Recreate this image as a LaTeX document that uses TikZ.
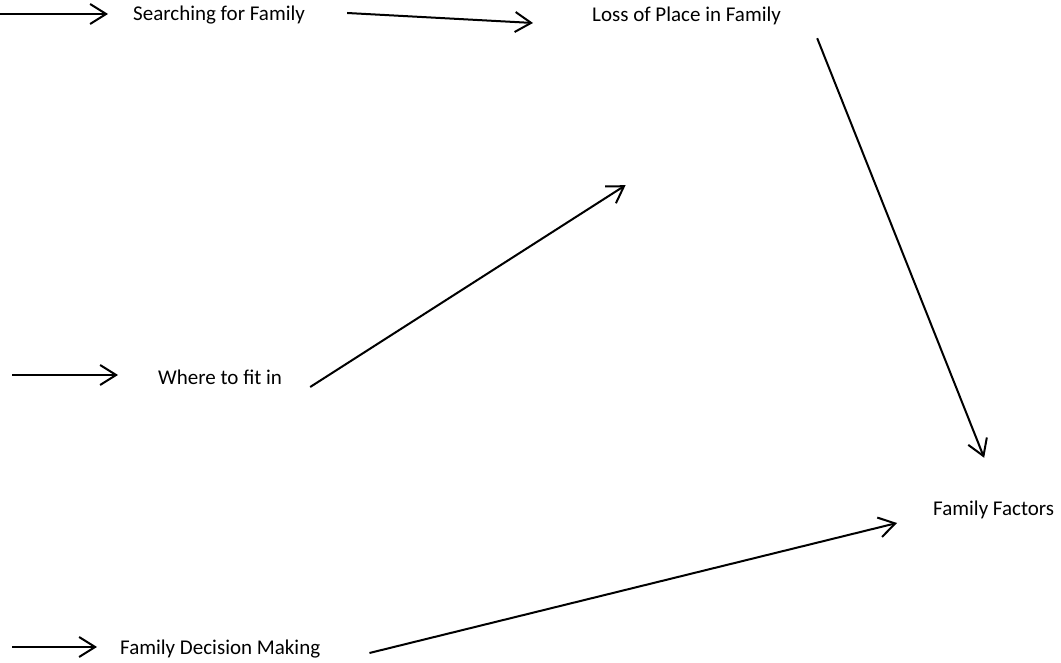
\documentclass[tikz,border=0pt]{standalone}
\usepackage{fontspec}
\setmainfont{Carlito}
\usepackage{tikz}
\usetikzlibrary{positioning,arrows.meta}

\begin{document}
\begin{tikzpicture}[x=1pt,y=1pt,
    lbl/.style={inner sep=0pt,anchor=base west,text height=14pt,text depth=5pt,
      font=\fontsize{21}{25}\selectfont},
    flow/.style={line width=2pt,-{Straight Barb[length=16pt,width=20pt,line width=2pt]}}]
      \useasboundingbox (0,0) rectangle (1061,663);
      % labels
      \node[lbl] (search) at (133,642) {Searching for Family};
      \node[lbl] (loss) at (592,641) {Loss of Place in Family};
      \node[lbl] (where) at (158,278) {Where to fit in};
      \node[lbl] (factors) at (933,147) {Family Factors};
      \node[lbl] (decide) at (120,8) {Family Decision Making};
      % loose starts
      \coordinate (in1) at (0,649);
      \coordinate (in2) at (12,288);
      \coordinate (in3) at (12,16);
      \draw[flow] (in1) -- ([xshift=-25pt,yshift=2.5pt]search.west);
      \draw[flow] (in2) -- ([xshift=-40pt,yshift=5.5pt]where.west);
      \draw[flow] (in3) -- ([xshift=-23pt,yshift=3.5pt]decide.west);
      % links
      \draw[flow] ([xshift=42pt,yshift=3.5pt]search.east) -- ([xshift=-59pt,yshift=-5.5pt]loss.west);
      \draw[flow] ([xshift=36pt,yshift=-11pt]loss.south east) -- ([xshift=-9.5pt,yshift=44pt]factors.north);
      \draw[flow] ([xshift=28pt,yshift=-6.5pt]where.east) -- ([xshift=-61pt,yshift=-158pt]loss.south);
      \draw[flow] ([xshift=49pt,yshift=-2.5pt]decide.east) -- ([xshift=-36pt,yshift=-11.5pt]factors.west);
\end{tikzpicture}
\end{document}
